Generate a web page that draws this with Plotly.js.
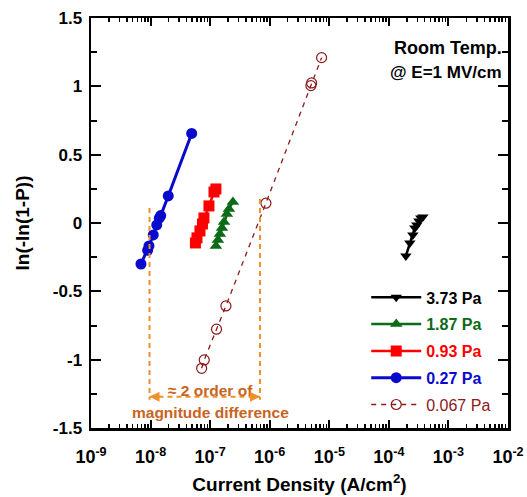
<!DOCTYPE html>
<html>
<head>
<meta charset="utf-8">
<script src="https://cdn.plot.ly/plotly-3.0.1.min.js"></script>
<style>html,body{margin:0;padding:0;background:#fff}#chart{width:527px;height:497px}</style>
</head>
<body>
<div id="chart"></div>
<script>
// ---- data ----
const names = ["3.73 Pa", "1.87 Pa", "0.93 Pa", "0.27 Pa", "0.067 Pa"];

const j373 = [1.93e-4, 2.25e-4, 2.53e-4, 2.73e-4, 2.95e-4, 3.19e-4, 3.44e-4, 3.72e-4];
const w373 = [-0.241, -0.146, -0.087, -0.036, -0.014, 0.015, 0.037, 0.044];

const j187 = [1.25e-7, 1.35e-7, 1.46e-7, 1.58e-7, 1.71e-7, 1.91e-7, 2.07e-7, 2.41e-7];
const w187 = [-0.168, -0.124, -0.080, -0.036, 0.008, 0.066, 0.103, 0.154];

const j093 = [5.66e-8, 6.01e-8, 6.75e-8, 7.43e-8, 7.87e-8, 9.55e-8, 1.16e-7, 1.25e-7];
const w093 = [-0.146, -0.109, -0.058, -0.007, 0.037, 0.125, 0.227, 0.249];

const j027 = [6.9e-9, 8.93e-9, 9.4e-9, 1.11e-8, 1.27e-8, 1.40e-8, 1.48e-8, 1.98e-8, 4.9e-8];
const w027 = [-0.30, -0.20, -0.168, -0.087, -0.014, 0.035, 0.054, 0.198, 0.655];

const j0067 = [7.2e-8, 7.96e-8, 1.28e-7, 1.84e-7, 8.63e-7, 4.91e-6, 5.05e-6, 7.43e-6];
const w0067 = [-1.063, -1.002, -0.777, -0.607, 0.145, 1.005, 1.025, 1.21];

// orange guide: two vertical dashed lines and a double arrow
const guideX = [9.6e-9, 6.86e-7];
const guideTop = [0.11, 0.176];
const guideBottom = -1.294;
const arrowY = -1.272;
const guideTextX = 1e-7;

const yTickVals = [-1.5, -1, -0.5, 0, 0.5, 1, 1.5];
const yTickText = ["-1.5", "-1", "-0.5", "0", "0.5", "1", "1.5"];
const xTickVals = [1e-9, 1e-8, 1e-7, 1e-6, 1e-5, 1e-4, 1e-3, 1e-2];
const xTickText = ["10<sup>-9</sup>", "10<sup>-8</sup>", "10<sup>-7</sup>", "10<sup>-6</sup>",
                   "10<sup>-5</sup>", "10<sup>-4</sup>", "10<sup>-3</sup>", "10<sup>-2</sup>"];

// ---- styling ----
const FONT = "Liberation Sans, Arial, Helvetica, sans-serif";
const orange = "#F0902A";
const orangeText = "#C8641E";

function lab(name, color, bold) {
  return '<span style="color:' + color + '">' + (bold ? '<b>' + name + '</b>' : name) + '</span>';
}

const traces = [
  {x: j373, y: w373, name: lab(names[0], "#000000", true), mode: "lines+markers", legendgroup: "a",
   line: {color: "#000000", width: 2.5}, marker: {symbol: "triangle-down", size: 10, color: "#000000"}},
  {x: j187, y: w187, name: lab(names[1], "#0B6B17", true), mode: "lines+markers", legendgroup: "b",
   line: {color: "#0B6B17", width: 2.5}, marker: {symbol: "triangle-up", size: 11, color: "#0B6B17"}},
  {x: j093, y: w093, name: lab(names[2], "#FF0000", true), mode: "lines+markers", legendgroup: "c",
   line: {color: "#FF0000", width: 2.5}, marker: {symbol: "square", size: 11, color: "#FF0000"}},
  {x: j027, y: w027, name: lab(names[3], "#0A0ACC", true), mode: "lines+markers", legendgroup: "d",
   line: {color: "#0A0ACC", width: 3}, marker: {symbol: "circle", size: 11, color: "#0A0ACC"}},
  {x: j0067, y: w0067, name: lab(names[4], "#8B1A1A", false), mode: "lines+markers", legendgroup: "e",
   line: {color: "#8B1A1A", width: 1.3, dash: "5px,5px"},
   marker: {symbol: "circle-open", size: 10, color: "#8B1A1A", line: {width: 1.2, color: "#8B1A1A"}}},
  // guides
  {x: [guideX[0], guideX[0]], y: [guideTop[0], guideBottom], mode: "lines", showlegend: false, hoverinfo: "skip",
   line: {color: orange, width: 2, dash: "5px,4px"}},
  {x: [guideX[1], guideX[1]], y: [guideTop[1], guideBottom], mode: "lines", showlegend: false, hoverinfo: "skip",
   line: {color: orange, width: 2, dash: "5px,4px"}},
  {x: guideX, y: [arrowY, arrowY], mode: "lines", showlegend: false, hoverinfo: "skip",
   line: {color: orange, width: 2, dash: "5px,4px"}}
];

const layout = {
  width: 527, height: 497,
  margin: {l: 91, r: 19, t: 18, b: 69},
  paper_bgcolor: "#fff", plot_bgcolor: "#fff",
  font: {family: FONT, size: 14, color: "#000"},
  showlegend: true,
  legend: {x: 0.66, y: 0.36, xanchor: "left", yanchor: "top", bgcolor: "rgba(0,0,0,0)",
           font: {family: FONT, size: 16}, tracegroupgap: 3, itemwidth: 50},
  xaxis: {
    type: "log", range: [-9, -2],
    tickmode: "array", tickvals: xTickVals, ticktext: xTickText,
    ticks: "inside", ticklen: 8, tickwidth: 2, tickcolor: "#000",
    minor: {ticks: "inside", ticklen: 4, tickwidth: 1.5, tickcolor: "#000", dtick: "D1", showgrid: false},
    showline: true, linewidth: 2.5, linecolor: "#000", mirror: "ticks",
    showgrid: false, zeroline: false, ticklabelstandoff: 11,
    tickfont: {family: FONT, size: 18, color: "#000", weight: "bold"},
    title: {text: "<b>Current Density (A/cm<sup>2</sup>)</b>", font: {family: FONT, size: 19}, standoff: 12}
  },
  yaxis: {
    range: [-1.5, 1.5],
    tickmode: "array", tickvals: yTickVals, ticktext: yTickText,
    ticks: "inside", ticklen: 10, tickwidth: 2, tickcolor: "#000",
    minor: {ticks: "inside", ticklen: 6, tickwidth: 2, tickcolor: "#000", dtick: 0.25, showgrid: false},
    showline: true, linewidth: 2.5, linecolor: "#000", mirror: "ticks",
    showgrid: false, zeroline: false, ticklabelstandoff: 3,
    tickfont: {family: FONT, size: 17, color: "#000", weight: "bold"},
    title: {text: "<b>ln(-ln(1-P))</b>", font: {family: FONT, size: 19}, standoff: 18}
  },
  annotations: [
    {xref: "paper", yref: "paper", x: 0.99, y: 0.926, xanchor: "right", yanchor: "middle", showarrow: false,
     text: "<b>Room Temp.</b>", font: {family: FONT, size: 18, color: "#000"}},
    {xref: "paper", yref: "paper", x: 0.99, y: 0.868, xanchor: "right", yanchor: "middle", showarrow: false,
     text: "<b>@ E=1 MV/cm</b>", font: {family: FONT, size: 17, color: "#000"}},
    {xref: "x", yref: "y", x: Math.log10(guideTextX), y: -1.225, showarrow: false,
     text: "<b>≈ 2 order of</b>", font: {family: FONT, size: 15.5, color: orangeText}},
    {xref: "x", yref: "y", x: Math.log10(guideTextX), y: -1.39, showarrow: false,
     text: "<b>magnitude difference</b>", font: {family: FONT, size: 15.5, color: orangeText}},
    {xref: "x", yref: "y", x: Math.log10(guideX[0]), y: arrowY, ax: 12, ay: 0, text: "",
     showarrow: true, arrowhead: 2, arrowsize: 1, arrowwidth: 2, arrowcolor: orange},
    {xref: "x", yref: "y", x: Math.log10(guideX[1]), y: arrowY, ax: -12, ay: 0, text: "",
     showarrow: true, arrowhead: 2, arrowsize: 1, arrowwidth: 2, arrowcolor: orange}
  ]
};

Plotly.newPlot("chart", traces, layout, {displayModeBar: false, staticPlot: true});
</script>
</body>
</html>
